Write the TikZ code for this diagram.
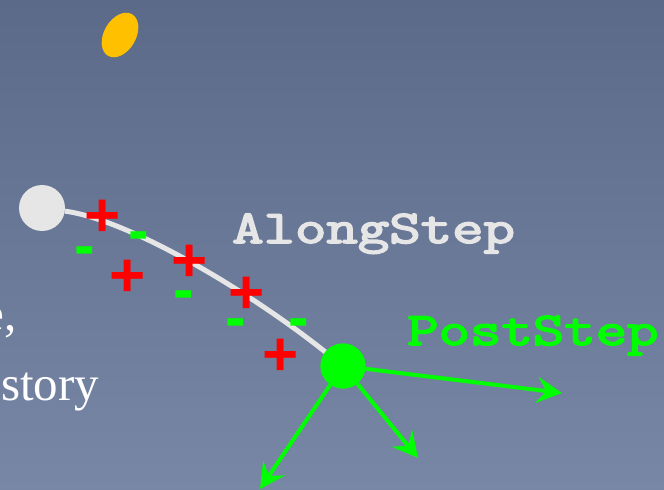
\documentclass[tikz,border=0pt]{standalone}
\usepackage{fontspec}
\usetikzlibrary{arrows.meta}
\newfontfamily\plusfont{Liberation Sans}
\newfontfamily\bodyfont{Liberation Serif}
\newfontfamily\codefont{Latin Modern Mono}[FakeBold=3.2]
\definecolor{bgtop}{RGB}{91,106,137}
\definecolor{bgbot}{RGB}{121,135,167}
\definecolor{pale}{RGB}{230,230,230}
\definecolor{lime}{RGB}{0,255,0}
\definecolor{sun}{RGB}{255,192,0}
\newcommand{\flatcode}[1]{\scalebox{1}[0.77]{#1}}
\tikzset{
  plus/.style={inner sep=0pt, anchor=base, text=red, font=\plusfont\bfseries\fontsize{62bp}{70bp}\selectfont},
  minus/.style={inner sep=0pt, anchor=base, text=lime, font=\plusfont\bfseries\fontsize{62bp}{70bp}\selectfont},
  label/.style={inner sep=0pt, anchor=base west, font=\codefont\fontsize{61bp}{68bp}\selectfont},
  body/.style={inner sep=0pt, text=white, font=\bodyfont\fontsize{49bp}{56bp}\selectfont},
  ray/.style={draw=lime, line width=4bp, -{Stealth[length=25bp,width=26bp,inset=9bp]}},
}
\begin{document}
\begin{tikzpicture}[x=1bp,y=1bp]
\useasboundingbox (0,0) rectangle (664,-490);
\clip (0,0) rectangle (664,-490);
\shade[top color=bgtop, bottom color=bgbot] (0,0) rectangle (664,-490);
% yellow ellipse
\fill[sun, rotate around={-30:(120,-35)}] (120,-35) ellipse [x radius=16, y radius=24];
% left text
\node[body, anchor=base east] (t1) at (17,-330) {e,};
\node[body, anchor=base west] (t2) at (1,-400) {story};
% nodes
\node[circle, fill=pale, minimum size=46bp, inner sep=0pt] (w) at (42,-208) {};
\node[circle, fill=lime, minimum size=45bp, inner sep=0pt] (g) at (343,-366) {};
\coordinate (a1) at (562,-393);
\coordinate (a2) at (418,-458);
\coordinate (a3) at (260,-489);
% track
\draw[pale, line width=5bp] (w) .. controls (130,-220) and (250,-292) .. (g);
% rays
\draw[ray] (g) -- (a1);
\draw[ray] (g) -- (a2);
\draw[ray] (g) -- (a3);
\node[circle, fill=lime, minimum size=45bp, inner sep=0pt] at (g) {};
% charges
\node[plus] (p1) at (103,-237) {+};
\node[plus] (p2) at (128,-296) {+};
\node[plus] (p3) at (190,-281) {+};
\node[plus] (p4) at (247,-313) {+};
\node[plus] (p5) at (281,-375) {+};
\node[minus] (m1) at (85,-266) {-};
\node[minus] (m2) at (139,-252) {-};
\node[minus] (m3) at (184,-310) {-};
\node[minus] (m4) at (236,-338) {-};
\node[minus] (m5) at (299,-338) {-};
% labels
\node[label, text=pale] (along) at (232,-243) {\flatcode{AlongStep}};
\node[label, text=lime] (post) at (407,-345) {\flatcode{PostStep}};
\end{tikzpicture}
\end{document}
